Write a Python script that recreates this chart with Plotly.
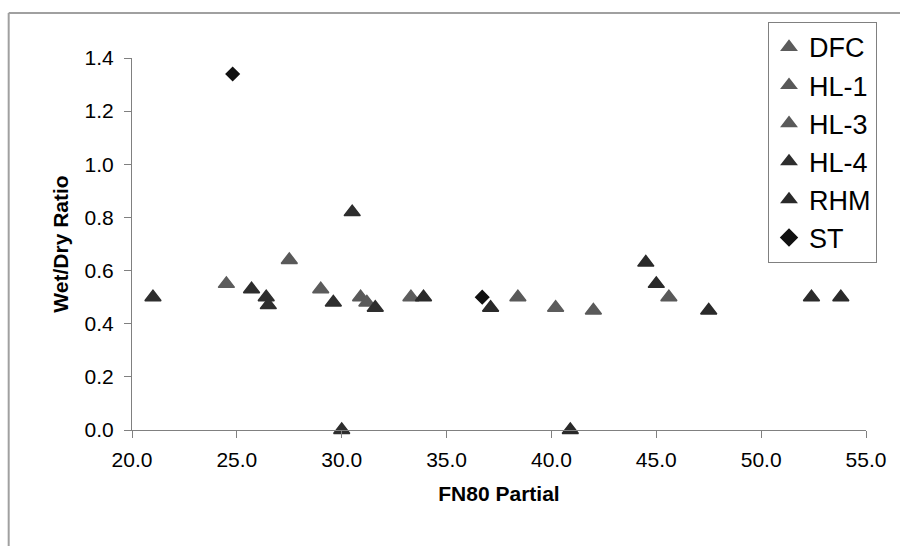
import plotly.graph_objects as go

# FN80 partial vs. wet/dry ratio, by source
dfc_x = [24.5, 29.0, 33.3, 40.2]
dfc_y = [0.55, 0.53, 0.50, 0.46]
hl1_x = [27.5, 30.9, 38.4, 45.6]
hl1_y = [0.64, 0.50, 0.50, 0.50]
hl3_x = [31.2, 42.0]
hl3_y = [0.48, 0.45]
hl4_x = [21.0, 25.7, 26.4, 26.5, 29.6, 30.0, 30.5, 31.6]
hl4_y = [0.50, 0.53, 0.50, 0.47, 0.48, 0.00, 0.82, 0.46]
rhm_x = [33.9, 37.1, 40.9, 44.5, 45.0, 47.5, 52.4, 53.8]
rhm_y = [0.50, 0.46, 0.00, 0.63, 0.55, 0.45, 0.50, 0.50]
st_x = [24.8, 36.7]
st_y = [1.34, 0.50]

x_ticks = [20, 25, 30, 35, 40, 45, 50, 55]
y_ticks = [0.0, 0.2, 0.4, 0.6, 0.8, 1.0, 1.2, 1.4]

series = [
    ("DFC", dfc_x, dfc_y, "triangle-up", "#5c5c5c"),
    ("HL-1", hl1_x, hl1_y, "triangle-up", "#595959"),
    ("HL-3", hl3_x, hl3_y, "triangle-up", "#5a5a5a"),
    ("HL-4", hl4_x, hl4_y, "triangle-up", "#2e2e2e"),
    ("RHM", rhm_x, rhm_y, "triangle-up", "#2a2a2a"),
    ("ST", st_x, st_y, "diamond", "#111111"),
]

FONT = "Liberation Sans, Arial, sans-serif"

fig = go.Figure()
for name, xs, ys, sym, col in series:
    is_tri = sym != "diamond"
    fig.add_trace(go.Scatter(
        x=xs, y=ys, mode="markers", name=name,
        marker=dict(symbol=sym, size=14 if is_tri else 10,
                    color=col, line=dict(width=1.5, color=col)),
        cliponaxis=False,
    ))

axis_common = dict(
    showline=True, linecolor="#808080", linewidth=1,
    ticks="outside", ticklen=7, tickcolor="#808080",
    showgrid=False, zeroline=False,
    tickfont=dict(family=FONT, size=21, color="#000"),
)

fig.update_layout(
    width=900, height=546,
    margin=dict(l=132, r=34, t=58, b=116),
    paper_bgcolor="white", plot_bgcolor="white",
    font=dict(family=FONT, color="#000"),
    xaxis=dict(range=[20, 55], tickvals=x_ticks,
               ticktext=[f"{v:.1f}" for v in x_ticks],
               ticklabelstandoff=4,
               title=dict(text="<b>FN80 Partial</b>", font=dict(size=21), standoff=16),
               **axis_common),
    yaxis=dict(range=[0, 1.4], tickvals=y_ticks,
               ticktext=[f"{v:.1f}" for v in y_ticks],
               ticklabelstandoff=6,
               title=dict(text="<b>Wet/Dry Ratio</b>", font=dict(size=21), standoff=10),
               **axis_common),
    legend=dict(x=0.8665, y=1.097, xanchor="left", yanchor="top",
                bordercolor="#808080", borderwidth=1, bgcolor="white",
                font=dict(size=27), tracegroupgap=0, itemsizing="constant",
                entrywidth=90, entrywidthmode="pixels"),
    showlegend=True,
    shapes=[
        dict(type="line", xref="paper", yref="paper", x0=-0.168, x1=1.05,
             y0=1.121, y1=1.121, line=dict(color="#a0a0a0", width=2)),
        dict(type="line", xref="paper", yref="paper", x0=-0.168, x1=-0.168,
             y0=1.121, y1=-0.32, line=dict(color="#a0a0a0", width=2)),
    ],
)

fig.write_html("out.html")
